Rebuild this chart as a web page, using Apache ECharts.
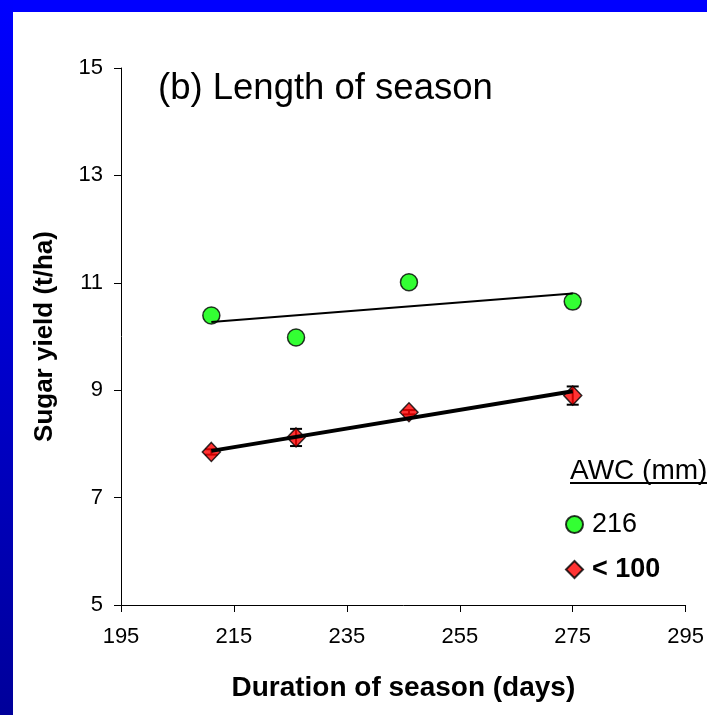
<!DOCTYPE html>
<html>
<head>
<meta charset="utf-8">
<script src="https://cdn.jsdelivr.net/npm/echarts@6/dist/echarts.min.js"></script>
<style>
html,body{margin:0;padding:0;background:#fff;}
#chart{width:707px;height:715px;}
</style>
</head>
<body>
<div id="chart"></div>
<script>
// ---- data ----
var xTicks = [195, 215, 235, 255, 275, 295];
var yTicks = [5, 7, 9, 11, 13, 15];

var duration216 = [211, 226, 246, 275];
var yield216    = [10.39, 9.98, 11.01, 10.65];

var durationLow = [211, 226, 246, 275];
var yieldLow    = [7.85, 8.12, 8.59, 8.90];
var errLow      = [0.05, 0.16, 0.04, 0.17];

var trendX      = [211, 275];
var trend216    = [10.27, 10.80];
var trendLow    = [7.87, 8.98];

var seriesNames = ['216', '< 100'];
var titleText = '(b) Length of season';
var legendTitle = 'AWC (mm)';
var xName = 'Duration of season (days)';
var yName = 'Sugar yield (t/ha)';

// ---- build ----
var FONT = '"Liberation Sans", Arial, sans-serif';
function zip(a, b) { return a.map(function (v, i) { return [v, b[i]]; }); }
var errData = durationLow.map(function (x, i) {
  return [x, yieldLow[i] - errLow[i], yieldLow[i] + errLow[i]];
});

var chart = echarts.init(document.getElementById('chart'), null, {renderer: 'canvas'});
var option = {
  backgroundColor: '#ffffff',
  animation: false,
  textStyle: {fontFamily: FONT},
  title: {
    text: titleText,
    left: 153, top: 65,
    textStyle: {fontFamily: FONT, fontSize: 36.5, fontWeight: 'normal', color: '#000'}
  },
  grid: {left: 121, right: 21, top: 68, bottom: 110, containLabel: false},
  xAxis: {
    type: 'value', min: xTicks[0], max: xTicks[xTicks.length - 1], interval: 20,
    name: xName, nameLocation: 'middle', nameGap: 69,
    nameTextStyle: {fontFamily: FONT, fontSize: 28, fontWeight: 'bold', color: '#000'},
    axisLine: {show: true, lineStyle: {color: '#000', width: 1}},
    axisTick: {show: true, inside: false, length: 7, lineStyle: {color: '#000'}},
    axisLabel: {fontFamily: FONT, fontSize: 22, color: '#000', margin: 21},
    splitLine: {show: false}
  },
  yAxis: {
    type: 'value', min: yTicks[0], max: yTicks[yTicks.length - 1], interval: 2,
    name: yName, nameLocation: 'middle', nameGap: 63, nameRotate: 90,
    nameTextStyle: {fontFamily: FONT, fontSize: 26, fontWeight: 'bold', color: '#000'},
    axisLine: {show: true, lineStyle: {color: '#000', width: 1}},
    axisTick: {show: true, inside: false, length: 7, lineStyle: {color: '#000'}},
    axisLabel: {fontFamily: FONT, fontSize: 22, color: '#000', margin: 18},
    splitLine: {show: false}
  },
  legend: {
    data: seriesNames,
    orient: 'vertical',
    left: 565, top: 511, padding: 0,
    itemWidth: 17, itemHeight: 17, itemGap: 18,
    textStyle: {
      fontFamily: FONT, fontSize: 27, color: '#000', lineHeight: 26,
      rich: {
        n: {fontFamily: FONT, fontSize: 27, color: '#000', fontWeight: 'normal', padding: [0, 0, 0, 4]},
        b: {fontFamily: FONT, fontSize: 27, color: '#000', fontWeight: 'bold', padding: [0, 0, 0, 4]}
      }
    },
    formatter: function (name) {
      return name === '< 100' ? '{b|' + name + '}' : '{n|' + name + '}';
    }
  },
  graphic: [
    {type: 'rect', left: 0, top: 0, shape: {width: 707, height: 12}, style: {fill: '#0000ff'}, z: 100},
    {type: 'rect', left: 0, top: 0, shape: {width: 13, height: 715},
      style: {fill: new echarts.graphic.LinearGradient(0, 0, 0, 1, [
        {offset: 0, color: '#0000ff'}, {offset: 1, color: '#00009a'}])}, z: 100},
    {type: 'text', left: 570, top: 457, style: {text: legendTitle, font: '28px ' + FONT, fill: '#000'}, z: 100},
    {type: 'line', shape: {x1: 570, y1: 483, x2: 707, y2: 483}, style: {stroke: '#000', lineWidth: 2}, z: 100}
  ],
  series: [
    {
      name: 'errLow', type: 'custom', z: 2,
      data: errData,
      renderItem: function (params, api) {
        var x = api.value(0);
        var lo = api.coord([x, api.value(1)]);
        var hi = api.coord([x, api.value(2)]);
        var w = 6;
        return {
          type: 'group',
          children: [
            {type: 'line', shape: {x1: lo[0], y1: lo[1], x2: hi[0], y2: hi[1]}, style: {stroke: '#000', lineWidth: 2}},
            {type: 'line', shape: {x1: lo[0] - w, y1: lo[1], x2: lo[0] + w, y2: lo[1]}, style: {stroke: '#000', lineWidth: 2}},
            {type: 'line', shape: {x1: hi[0] - w, y1: hi[1], x2: hi[0] + w, y2: hi[1]}, style: {stroke: '#000', lineWidth: 2}}
          ]
        };
      }
    },
    {
      name: seriesNames[0], type: 'scatter', z: 3,
      symbol: 'circle', symbolSize: 17,
      itemStyle: {color: '#00ff00', borderColor: '#000', borderWidth: 1.5},
      data: zip(duration216, yield216)
    },
    {
      name: seriesNames[1], type: 'scatter', z: 3,
      symbol: 'diamond', symbolSize: [18, 19],
      itemStyle: {color: '#ff0000', borderColor: '#000', borderWidth: 1.5},
      data: zip(durationLow, yieldLow)
    },
    {
      name: 'trend216', type: 'line', z: 4, symbol: 'none',
      lineStyle: {color: '#000', width: 2},
      data: zip(trendX, trend216)
    },
    {
      name: 'trendLow', type: 'line', z: 4, symbol: 'none',
      lineStyle: {color: '#000', width: 4},
      data: zip(trendX, trendLow)
    }
  ]
};
chart.setOption(option);
</script>
</body>
</html>
